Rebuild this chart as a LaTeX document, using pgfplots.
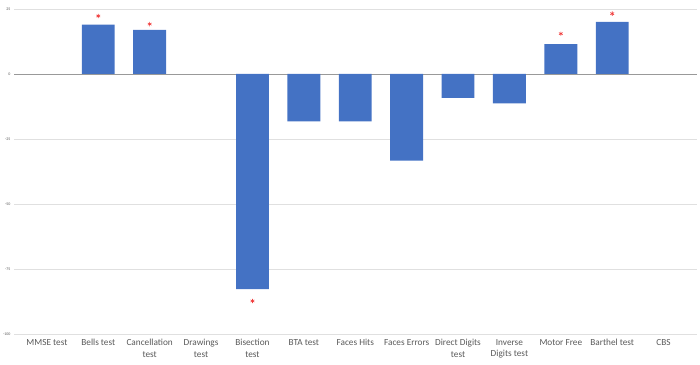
\documentclass[border=0pt]{standalone}
\usepackage{fontspec}
\setmainfont{Carlito}
\usepackage{pgfplots}
\pgfplotsset{compat=1.18}
\definecolor{barblue}{RGB}{68,114,196}
\definecolor{lblgray}{RGB}{89,89,89}
\begin{document}
\begin{tikzpicture}[x=1bp,y=1bp]
\begin{axis}[
  scale only axis,
  width=683bp, height=325bp,
  xmin=-0.64, xmax=12.65,
  ymin=-100, ymax=25,
  axis line style={draw=none},
  tick style={draw=none},
  ytick={-100,-75,-50,-25,25},
  extra y ticks={0},
  extra y tick style={grid style={draw=black!40, line width=0.9pt}},
  ymajorgrids,
  grid style={draw=black!12, line width=0.6pt},
  yticklabel style={font=\fontsize{4}{4}\selectfont, text=lblgray},
  /pgf/number format/assume math mode=true,
  xtick={0,...,12},
  xticklabels={MMSE test, Bells test, Cancellation\\test, Drawings\\test, Bisection\\test, BTA test, Faces Hits, Faces Errors, Direct Digits\\test, Inverse\\Digits test, Motor Free, Barthel test, CBS},
  xticklabel style={font=\fontsize{9.3}{11.5}\selectfont, text=lblgray, align=center, anchor=north, yshift=-2bp},
  ]
\addplot[ybar, bar width=0.64, fill=barblue, draw=none] coordinates {
  (1,19) (2,17) (4,-82.7) (5,-18.2) (6,-18.2) (7,-33.3) (8,-9.2) (9,-11.3) (10,11.5) (11,20)
};
\addplot[only marks, mark=asterisk, mark size=2.2pt, color={rgb,255:red,240;green,60;blue,60}, mark options={line width=0.6pt}] coordinates {
  (1,22.3) (2,19.2) (4,-87.3) (10,15.5) (11,23.2)
};
\end{axis}
\pgfresetboundingbox
\path[use as bounding box] ([xshift=-14bp,yshift=-31bp]current axis.south west) rectangle ([xshift=3bp,yshift=9bp]current axis.north east);
\end{tikzpicture}
\end{document}
